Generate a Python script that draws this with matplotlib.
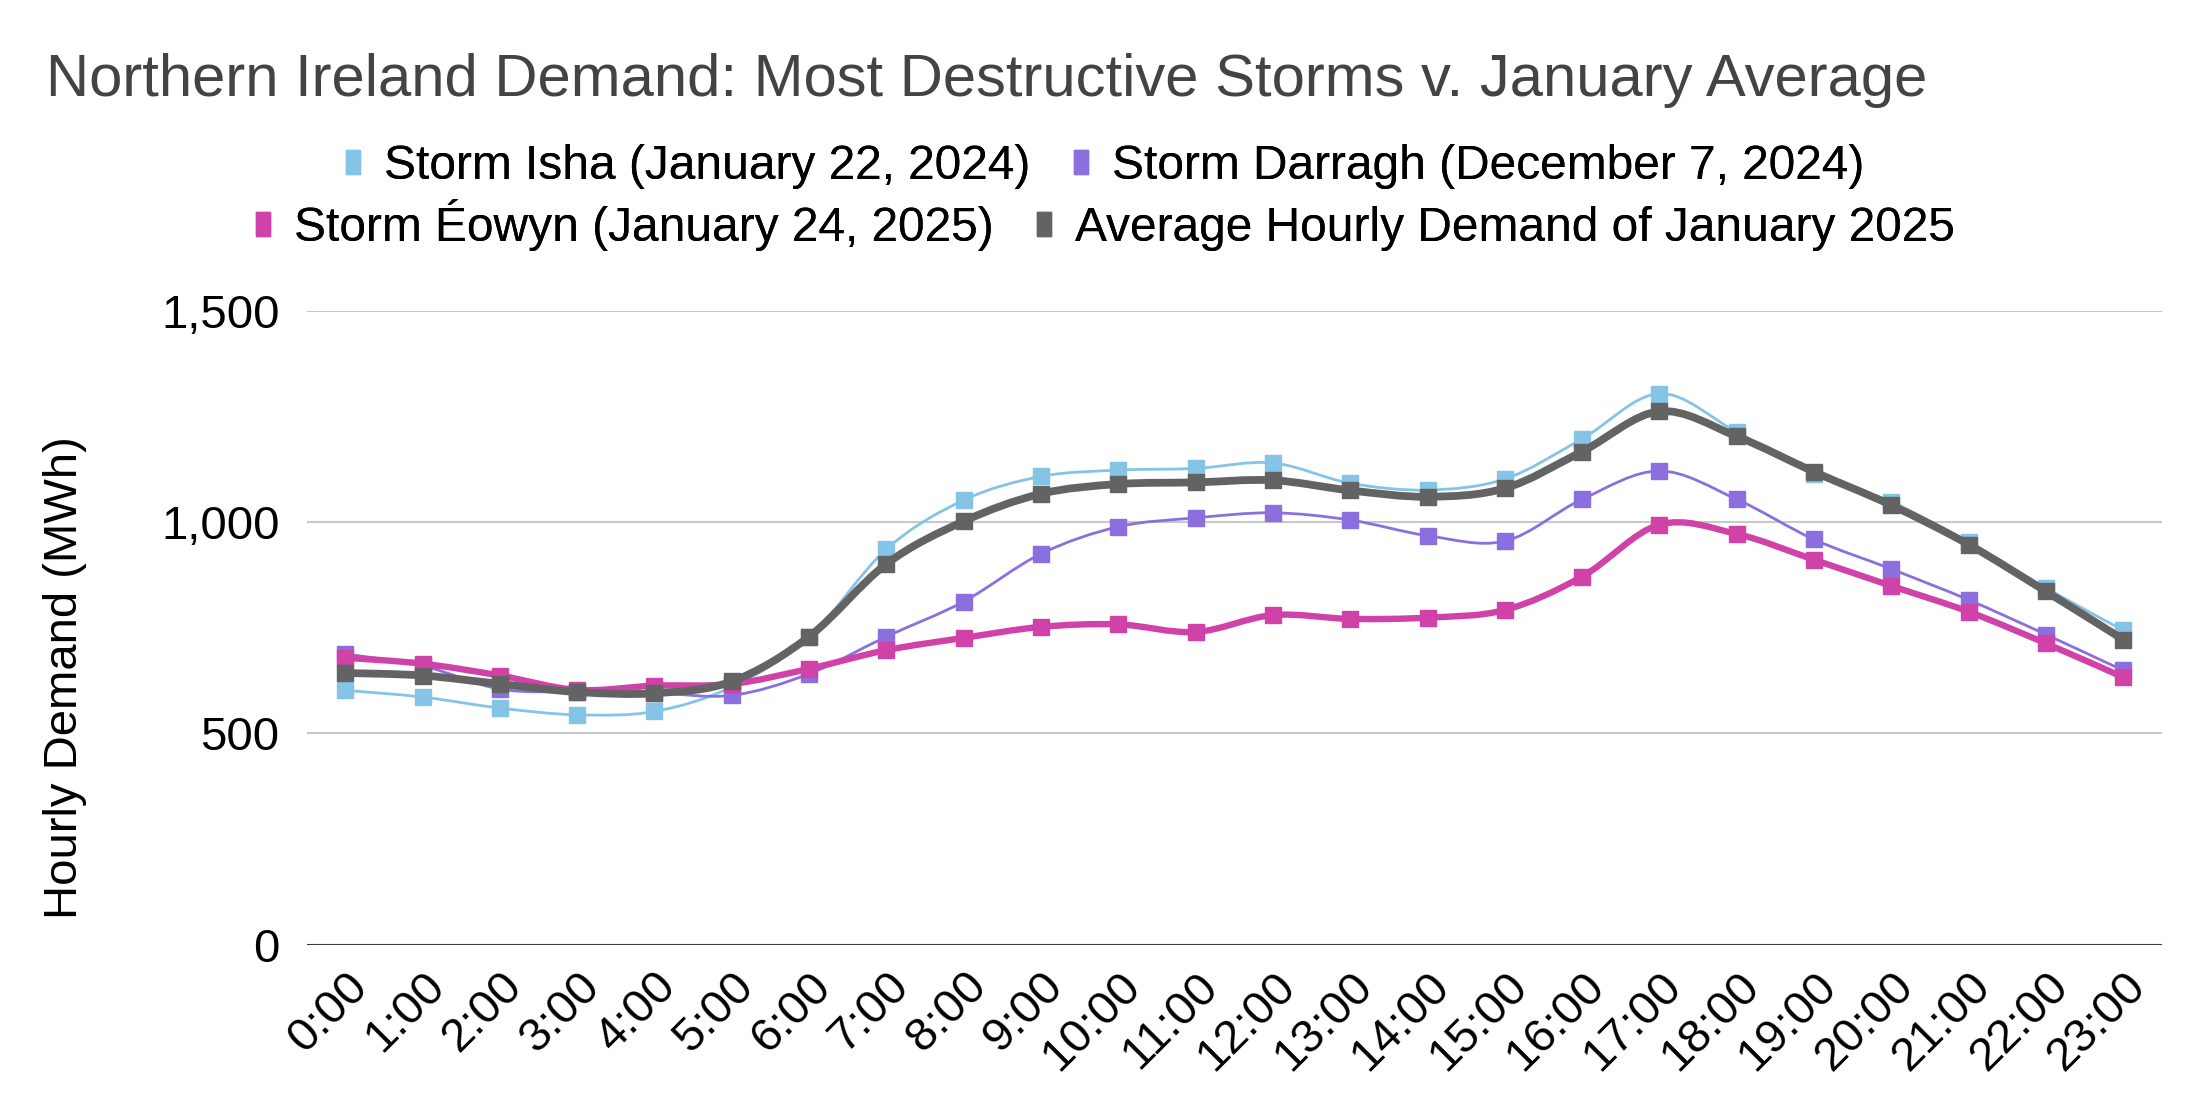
import matplotlib.pyplot as plt
from matplotlib.path import Path
from matplotlib.patches import PathPatch
from matplotlib.lines import Line2D

plt.rcParams['font.family'] = ['Liberation Sans', 'DejaVu Sans']

hours = ["0:00", "1:00", "2:00", "3:00", "4:00", "5:00", "6:00", "7:00",
         "8:00", "9:00", "10:00", "11:00", "12:00", "13:00", "14:00", "15:00",
         "16:00", "17:00", "18:00", "19:00", "20:00", "21:00", "22:00", "23:00"]

isha = [602, 586, 560, 544, 552, 610, 728, 936, 1052, 1108, 1123, 1127,
        1140, 1092, 1076, 1102, 1197, 1304, 1213, 1113, 1048, 952, 844, 744]
darragh = [688, 660, 605, 598, 596, 590, 641, 729, 812, 925, 989, 1010,
           1022, 1005, 968, 955, 1054, 1121, 1054, 959, 889, 816, 734, 649]
eowyn = [679, 665, 637, 603, 613, 617, 653, 697, 726, 752, 758, 740,
         780, 771, 774, 792, 871, 994, 972, 911, 849, 788, 713, 633]
average = [643, 637, 617, 598, 595, 623, 729, 901, 1002, 1067, 1090, 1094,
           1099, 1075, 1060, 1080, 1167, 1262, 1203, 1119, 1040, 947, 836, 722]

labels = ["Storm Isha (January 22, 2024)", "Storm Darragh (December 7, 2024)",
          "Storm Éowyn (January 24, 2025)", "Average Hourly Demand of January 2025"]
colors = ["#85c4e6", "#8c6fdf", "#d042a8", "#636363"]
widths = [2.0, 2.0, 4.6, 5.6]


def smooth_path(x, y):
    # bezier through the points, like a spreadsheet "smoothed line"
    verts = [(x[0], y[0])]
    codes = [Path.MOVETO]
    n = len(x)
    for i in range(n - 1):
        a = i - 1 if i > 0 else i
        d = i + 2 if i + 2 < n else i + 1
        c1 = (x[i] + (x[i + 1] - x[a]) / 6, y[i] + (y[i + 1] - y[a]) / 6)
        c2 = (x[i + 1] - (x[d] - x[i]) / 6, y[i + 1] - (y[d] - y[i]) / 6)
        verts += [c1, c2, (x[i + 1], y[i + 1])]
        codes += [Path.CURVE4] * 3
    return Path(verts, codes)


fig = plt.figure(figsize=(22.06, 11.18), dpi=100)
ax = fig.add_axes([0.139, 0.155, 0.841, 0.567])

x = list(range(len(hours)))
series = [isha, darragh, eowyn, average]
for k, (vals, c, lw) in enumerate(zip(series, colors, widths)):
    ax.add_patch(PathPatch(smooth_path(x, vals), facecolor="none", edgecolor=c,
                           lw=lw, joinstyle="round", capstyle="round", zorder=3 + k))
    ax.plot(x, vals, ls="none", marker="s", ms=12, color=c, mec=c, zorder=3 + k)

ax.set_xlim(-0.5, 23.5)
ax.set_ylim(0, 1500)
ax.set_yticks([0, 500, 1000, 1500])
ax.set_yticklabels(["0", "500", "1,000", "1,500"])
ax.set_xticks(x)
ax.set_xticklabels(hours, rotation=45, ha="right", va="top", rotation_mode="anchor")
ax.tick_params(axis="both", length=0, labelsize=34, colors="black")
ax.tick_params(axis="y", pad=19.5)
ax.tick_params(axis="x", pad=14)
for s in ax.spines.values():
    s.set_visible(False)
ax.grid(axis="y", color="#c8c8c8", lw=1.5)
ax.axhline(0, color="#3a3a3a", lw=2.2, zorder=2)
ax.set_axisbelow(True)

fig.text(0.021, 0.914, "Northern Ireland Demand: Most Destructive Storms v. January Average",
         fontsize=43, color="#434343", va="baseline", ha="left")
fig.text(0.0295, 0.394, "Hourly Demand (MWh)", rotation=90, fontsize=34,
         va="center", ha="center")

rect = [(-0.3, -0.5), (0.3, -0.5), (0.3, 0.5), (-0.3, 0.5), (-0.3, -0.5)]
handles = [Line2D([], [], ls="none", marker=rect, ms=17, color=c) for c in colors]
for row, ypos in [(0, 0.851), (1, 0.799)]:
    leg = fig.legend(handles[2 * row:2 * row + 2], labels[2 * row:2 * row + 2],
                     loc="center", bbox_to_anchor=(0.5, ypos), ncol=2, frameon=False,
                     fontsize=34.5, handlelength=0.5, handletextpad=0.4,
                     columnspacing=0.8, borderpad=0)
    fig.add_artist(leg)

fig.savefig("out.png", dpi=100)
